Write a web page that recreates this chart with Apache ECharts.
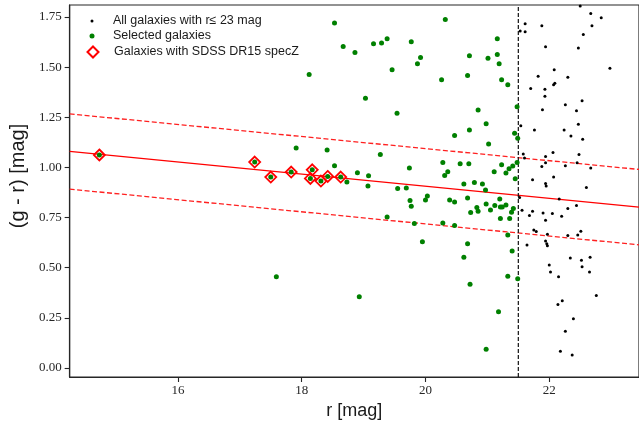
<!DOCTYPE html>
<html>
<head>
<meta charset="utf-8">
<script src="https://cdn.jsdelivr.net/npm/echarts@6/dist/echarts.min.js"></script>
<style>html,body{margin:0;padding:0;background:#fff}#c{width:639px;height:433px}</style>
</head>
<body>
<div id="c"></div>
<script>
// ---- data ----
const xTicks = [16, 18, 20, 22];
const yTicks = [0, 0.25, 0.5, 0.75, 1.0, 1.25, 1.5, 1.75];
const xRange = [14.25, 23.45];
const yRange = [-0.045, 1.81];
const magCut = 21.5;

const fitLine   = [[14.25, 1.080], [23.45, 0.802]];
const upperLine = [[14.25, 1.267], [23.45, 0.990]];
const lowerLine = [[14.25, 0.892], [23.45, 0.614]];

const specZ = [[14.73,1.062],[17.24,1.027],[17.50,0.952],[17.83,0.977],[18.17,0.988],
  [18.14,0.945],[18.31,0.932],[18.42,0.955],[18.63,0.952]];

const selected = [[17.91,1.097],[18.41,1.087],[18.53,1.008],[18.73,0.928],[18.90,0.973],
  [18.53,1.72],[18.67,1.603],[18.86,1.573],[18.12,1.463],[17.59,0.455],[18.93,0.355],
  [20.32,1.738],[19.16,1.617],[19.29,1.62],[19.38,1.642],[19.77,1.627],[19.92,1.548],[19.87,1.517],
  [19.46,1.487],[21.16,1.642],[20.71,1.557],[21.01,1.545],[21.16,1.563],[21.19,1.517],[20.26,1.437],
  [20.68,1.458],[21.23,1.437],[21.33,1.412],[19.03,1.345],[19.54,1.27],[21.48,1.303],[20.85,1.287],
  [20.98,1.218],[20.71,1.187],[20.47,1.159],[21.44,1.17],[21.49,1.145],[21.02,1.117],[19.27,1.065],
  [19.08,0.958],[19.07,0.908],[19.74,0.997],[20.28,1.025],[20.31,0.96],[20.36,0.978],[20.56,1.018],
  [20.70,1.018],[21.23,1.013],[21.11,0.978],[21.30,0.972],[21.35,0.993],[21.41,1.007],[21.48,1.025],
  [21.45,0.943],[20.62,0.918],[20.79,0.925],[20.92,0.918],[20.97,0.887],[19.55,0.895],[19.69,0.897],
  [20.03,0.858],[20.00,0.838],[20.39,0.838],[20.68,0.847],[21.20,0.843],[19.75,0.835],[19.77,0.807],
  [20.47,0.828],[20.73,0.775],[20.83,0.80],[20.85,0.782],[20.98,0.818],[21.05,0.788],[21.12,0.81],
  [21.21,0.803],[21.24,0.803],[21.30,0.813],[21.42,0.795],[21.39,0.777],[21.21,0.745],[21.36,0.745],
  [19.38,0.753],[19.82,0.72],[20.28,0.723],[20.47,0.71],[21.33,0.663],[19.95,0.63],[20.68,0.62],
  [20.62,0.552],[21.40,0.583],[21.33,0.458],[21.49,0.445],[20.72,0.418],[21.18,0.28],[20.98,0.093]];

const allGal = [[22.50,1.805],[22.67,1.767],[22.84,1.747],[21.61,1.717],[21.88,1.707],[22.69,1.707],
  [21.53,1.68],[21.61,1.677],[22.55,1.663],[21.94,1.602],[22.47,1.595],[22.98,1.495],[22.08,1.487],
  [21.82,1.455],[22.30,1.45],[22.09,1.42],[22.07,1.412],[21.70,1.393],[21.93,1.39],[21.93,1.355],
  [22.53,1.333],[22.26,1.312],[21.89,1.288],[22.44,1.283],[21.54,1.208],[22.47,1.215],[21.76,1.187],
  [22.24,1.187],[22.35,1.157],[22.54,1.14],[21.58,1.067],[21.60,1.047],[22.06,1.075],[22.48,1.065],
  [21.94,1.055],[21.94,1.023],[21.88,1.005],[22.26,1.008],[22.45,1.023],[22.67,0.997],[21.73,0.938],
  [22.07,0.952],[21.94,0.92],[21.95,0.907],[22.60,0.90],[21.52,0.85],[22.16,0.843],
  [21.56,0.787],[21.73,0.782],[21.68,0.76],[21.90,0.773],[22.05,0.77],[22.20,0.757],[22.30,0.795],
  [22.44,0.81],[21.94,0.737],[21.75,0.688],[21.79,0.68],[21.97,0.667],[22.30,0.66],[22.46,0.663],
  [22.51,0.682],[21.94,0.633],[21.96,0.62],[21.97,0.61],[21.64,0.613],[22.34,0.548],[22.52,0.537],
  [22.66,0.552],[22.00,0.513],[22.53,0.505],[22.02,0.478],[22.65,0.478],[22.15,0.455],[22.76,0.362],
  [22.21,0.335],[22.14,0.317],[22.39,0.245],[22.26,0.183],[22.18,0.083],[22.37,0.065]];

const names = ['All galaxies with r\u2264 23 mag', 'Selected galaxies', 'Galaxies with SDSS DR15 specZ'];

// ---- chart ----
const chart = echarts.init(document.getElementById('c'), null, {renderer: 'canvas'});
const axisCol = '#262626';
const tickFont = {fontFamily: 'Liberation Serif', fontSize: 13, color: '#262626'};
// legend icon centred at x=92, text starting at x=113
function legendAt(name, centerY, h) {
  return {data: [name], left: 92 - h / 2, top: centerY - 6.5, padding: 0, itemWidth: h, itemHeight: h,
    textStyle: {fontFamily: 'Liberation Sans', fontSize: 12.5, color: '#1a1a1a',
      padding: [0, 0, 0, 113 - (92 + h / 2 + 5)]},
    selectedMode: false};
}
chart.setOption({
  animation: false,
  grid: {left: 69, right: -1, top: 5, bottom: 56, show: true, borderColor: axisCol, borderWidth: 1.2, backgroundColor: '#fff'},
  legend: [legendAt(names[0], 21, 3), legendAt(names[1], 36, 5), legendAt(names[2], 52, 11)],
  xAxis: {
    type: 'value', min: xRange[0], max: xRange[1],
    name: 'r [mag]', nameLocation: 'middle', nameGap: 25,
    nameTextStyle: {fontFamily: 'Liberation Sans', fontSize: 18, color: '#1a1a1a'},
    axisLine: {show: true, onZero: false, lineStyle: {color: axisCol, width: 1.2}},
    axisTick: {show: true, length: 5, lineStyle: {color: axisCol, width: 1.1}, customValues: xTicks},
    axisLabel: Object.assign({customValues: xTicks, margin: 7}, tickFont),
    splitLine: {show: false}
  },
  yAxis: {
    type: 'value', min: yRange[0], max: yRange[1],
    name: '(g - r) [mag]', nameLocation: 'middle', nameGap: 40,
    nameTextStyle: {fontFamily: 'Liberation Sans', fontSize: 20, color: '#1a1a1a', padding: [0, 0, 0, 30]},
    axisLine: {show: true, onZero: false, lineStyle: {color: axisCol, width: 1.2}},
    axisTick: {show: true, length: 5, lineStyle: {color: axisCol, width: 1.1}, customValues: yTicks},
    axisLabel: Object.assign({customValues: yTicks, margin: 8, formatter: v => v.toFixed(2)}, tickFont),
    splitLine: {show: false}
  },
  series: [
    {type: 'line', data: fitLine, symbol: 'none', silent: true, z: 1,
     lineStyle: {color: '#ff0000', width: 1.3}},
    {type: 'line', data: upperLine, symbol: 'none', silent: true, z: 1,
     lineStyle: {color: '#ff2020', width: 1.3, type: [5, 2.5]}},
    {type: 'line', data: lowerLine, symbol: 'none', silent: true, z: 1,
     lineStyle: {color: '#ff2020', width: 1.3, type: [5, 2.5]}},
    {type: 'line', data: [[magCut, yRange[0]], [magCut, yRange[1]]], symbol: 'none', silent: true, z: 1,
     lineStyle: {color: '#111', width: 1.2, type: [4, 2]}},
    {name: names[0], type: 'scatter', data: allGal, symbol: 'circle', symbolSize: 3, z: 2,
     itemStyle: {color: '#000', opacity: 1}},
    {name: names[1], type: 'scatter', data: selected.concat(specZ), symbol: 'circle', symbolSize: 5, z: 3,
     itemStyle: {color: '#008000', opacity: 1}},
    {name: names[2], type: 'scatter', data: specZ, symbol: 'diamond', symbolSize: 11, z: 4,
     itemStyle: {color: 'rgba(0,0,0,0)', borderColor: '#ff0000', borderWidth: 1.8, opacity: 1}}
  ]
});
</script>
</body>
</html>
